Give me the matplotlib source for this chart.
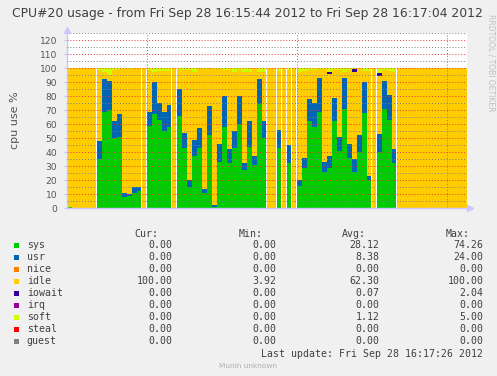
import matplotlib
matplotlib.use('Agg')
import matplotlib.pyplot as plt
from matplotlib.patches import Rectangle
from matplotlib.ticker import MultipleLocator

title = 'CPU#20 usage - from Fri Sep 28 16:15:44 2012 to Fri Sep 28 16:17:04 2012'

# one sample per second, 80 seconds (16:15:44 -> 16:17:04)
sys_v = [1, 0, 0, 0, 0, 0, 35, 69, 70, 50,
         51, 8, 9, 11, 12, 0, 59, 67, 63, 55,
         58, 0, 66, 43, 15, 37, 43, 11, 52, 1,
         33, 58, 32, 43, 60, 27, 44, 31, 74.26, 50,
         0, 0, 43, 0, 32, 0, 16, 29, 62, 58,
         69, 26, 29, 62, 41, 71, 36, 26, 40, 68,
         20, 0, 40, 71, 63, 32, 0, 0, 0, 0,
         0, 0, 0, 0, 0, 0, 0, 0, 0, 0]
usr_v = [0, 0, 0, 0, 0, 0, 13, 23, 21, 12,
         16, 3, 1, 4, 3, 0, 10, 23, 12, 14,
         16, 0, 19, 11, 5, 12, 14, 3, 21, 1,
         13, 22, 10, 12, 20, 5, 18, 6, 18, 12,
         0, 0, 13, 0, 13, 0, 4, 7, 16, 17,
         24, 7, 8, 17, 10, 22, 10, 9, 12, 22,
         3, 0, 13, 20, 18, 10, 0, 0, 0, 0,
         0, 0, 0, 0, 0, 0, 0, 0, 0, 0]
idle_v = [99, 100, 100, 100, 100, 100, 50.5, 5, 4, 36.5,
          32, 88, 89, 85, 85, 100, 29.5, 7, 23, 29,
          24, 100, 13.5, 44.5, 78.5, 48, 43, 85, 27, 97,
          53, 18.5, 56.5, 42, 18.5, 65, 35, 63, 4.74, 35,
          100, 100, 42, 100, 53.5, 100, 77, 62, 20.5, 23.5,
          6, 66, 59.1, 19.5, 47.5, 3.92, 52.5, 61.96, 48, 8,
          75, 100, 41.6, 7.5, 17, 55, 100, 100, 100, 100,
          100, 100, 100, 100, 100, 100, 100, 100, 100, 100]
iowait_v = [0, 0, 0, 0, 0, 0, 0, 0, 0, 0,
            0, 0, 0, 0, 0, 0, 0, 0, 0, 0,
            0, 0, 0, 0, 0, 0, 0, 0, 0, 0,
            0, 0, 0, 0, 0, 0, 0, 0, 0, 0,
            0, 0, 0, 0, 0, 0, 0, 0, 0, 0,
            0, 0, 1.3, 0, 0, 0, 0, 2.04, 0, 0,
            0, 0, 2.0, 0, 0, 0, 0, 0, 0, 0,
            0, 0, 0, 0, 0, 0, 0, 0, 0, 0]
soft_v = [0, 0, 0, 0, 0, 0, 1.5, 3, 5, 1.5,
          1, 1, 1, 0, 0, 0, 1.5, 3, 2, 2,
          2, 0, 1.5, 1.5, 1.5, 3, 0, 1, 0, 1,
          1, 1.5, 1.5, 3, 1.5, 3, 3, 0, 3, 3,
          0, 0, 2, 0, 1.5, 0, 3, 2, 1.5, 1.5,
          1, 1, 2.6, 1.5, 1.5, 3.08, 1.5, 1, 0, 2,
          2, 0, 3.4, 1.5, 2, 3, 0, 0, 0, 0,
          0, 0, 0, 0, 0, 0, 0, 0, 0, 0]
nice_v = [0] * 80
irq_v = [0] * 80
steal_v = [0] * 80
guest_v = [0] * 80

# seconds where rrd had unknown samples (thin white lines)
gaps = [6, 15, 16, 21, 22, 40, 42, 43, 44, 45, 46, 61, 62, 66]

names = ['sys', 'usr', 'nice', 'idle', 'iowait', 'irq', 'soft', 'steal', 'guest']
colors = ['#00CC00', '#0066B3', '#FF8000', '#FFCC00', '#330099',
          '#990099', '#CCFF00', '#FF0000', '#808080']
series = [sys_v, usr_v, nice_v, idle_v, iowait_v, irq_v, soft_v, steal_v, guest_v]

cur = ['0.00', '0.00', '0.00', '100.00', '0.00', '0.00', '0.00', '0.00', '0.00']
mins = ['0.00', '0.00', '0.00', '3.92', '0.00', '0.00', '0.00', '0.00', '0.00']
avgs = ['28.12', '8.38', '0.00', '62.30', '0.07', '0.00', '1.12', '0.00', '0.00']
maxs = ['74.26', '24.00', '0.00', '100.00', '2.04', '0.00', '5.00', '0.00', '0.00']

W, H = 497, 376
bg = '#F0F0F0'
axis_col = '#C8C8FF'
txt = '#404040'

fig = plt.figure(figsize=(W / 100, H / 100), dpi=100, facecolor=bg)
ax = fig.add_axes([67 / W, 1 - 208.3 / H, 400 / W, 175.3 / H])
ax.set_facecolor('white')

x = list(range(80))
bottom = [0.0] * 80
for vals, c in zip(series, colors):
    ax.bar(x, vals, width=1, bottom=bottom, align='edge', color=c, linewidth=0)
    bottom = [b + v for b, v in zip(bottom, vals)]

for g in gaps:
    ax.axvspan(g - 0.2, g, color='white', linewidth=0)

ax.set_xlim(0, 80)
ax.set_ylim(0, 125)
ax.set_yticks(range(0, 121, 10))
ax.yaxis.set_minor_locator(MultipleLocator(5))
ax.set_xticks([16, 46, 76])
ax.set_xticklabels([])
ax.set_axisbelow(False)
ax.grid(which='major', axis='y', color=(0.9, 0.2, 0.2, 0.28), linestyle=(0, (1, 2)), linewidth=0.7)
ax.grid(which='minor', axis='y', color=(0.5, 0.5, 0.5, 0.3), linestyle=(0, (1, 2)), linewidth=0.7)
ax.grid(which='major', axis='x', color=(0.5, 0.5, 0.5, 0.35), linestyle=(0, (1, 2)), linewidth=0.7)
ax.tick_params(axis='y', which='major', labelsize=6.6, labelcolor='#555555', color=axis_col,
               length=2, pad=5)
ax.tick_params(axis='y', which='minor', length=0)
ax.tick_params(axis='x', length=0)
for s in ['top', 'right']:
    ax.spines[s].set_visible(False)
for s in ['left', 'bottom']:
    ax.spines[s].set_color(axis_col)
    ax.spines[s].set_linewidth(1)
ax.set_ylabel('cpu use %', fontsize=8, color='#555555', labelpad=14)

# overlay in pixel coordinates for title, legend and decorations
lax = fig.add_axes([0, 0, 1, 1])
lax.set_xlim(0, W)
lax.set_ylim(H, 0)
lax.axis('off')
lax.patch.set_alpha(0)

lax.text(W / 2 - 1, 14, title, ha='center', va='center', fontsize=8.9, color=txt)
lax.text(491, 14, 'RRDTOOL / TOBI OETIKER', rotation=270, ha='center', va='top',
         fontsize=5.5, color='#C0C0C0')
lax.plot(67, 30, marker='^', color=axis_col, markersize=4, clip_on=False)
lax.plot(470, 208.3, marker='>', color=axis_col, markersize=4, clip_on=False)

mono = 'DejaVu Sans Mono'
fs = 7.1
for label, xr in zip(['Cur:', 'Min:', 'Avg:', 'Max:'], [158, 262.7, 365.7, 469.3]):
    lax.text(xr, 234, label, ha='right', va='center', family=mono, fontsize=fs, color=txt)

row_y = 245.5
for i, n in enumerate(names):
    yy = row_y + i * 12
    lax.add_patch(Rectangle((14.3, yy - 2.8), 5, 5, color=colors[i], linewidth=0))
    lax.text(26.7, yy, n, ha='left', va='center', family=mono, fontsize=fs, color=txt)
    for val, xr in zip([cur[i], mins[i], avgs[i], maxs[i]], [172.3, 276, 379.3, 483.3]):
        lax.text(xr, yy, val, ha='right', va='center', family=mono, fontsize=fs, color=txt)

lax.text(483.3, 354, 'Last update: Fri Sep 28 16:17:26 2012', ha='right', va='center',
         family=mono, fontsize=fs, color=txt)
lax.text(248, 366, 'Munin unknown', ha='center', va='center', fontsize=5.3, color='#B0B0B0')

fig.savefig('out.png', dpi=100, facecolor=bg)
